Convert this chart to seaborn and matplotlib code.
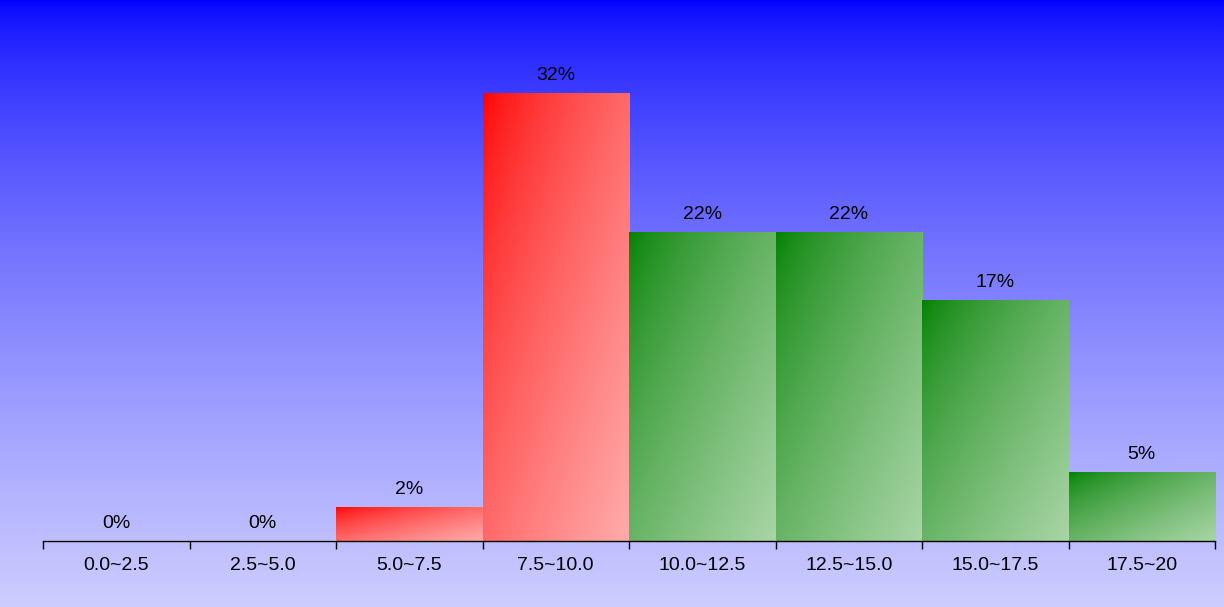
import numpy as np
import pandas as pd
import matplotlib
matplotlib.use("Agg")
import matplotlib.pyplot as plt
import seaborn as sns
from matplotlib.colors import ListedColormap

# ---- data ----
categories = ["0.0~2.5", "2.5~5.0", "5.0~7.5", "7.5~10.0",
              "10.0~12.5", "12.5~15.0", "15.0~17.5", "17.5~20"]
values = [0.0, 0.0, 2.4, 32.0, 22.1, 22.1, 17.2, 4.9]
labels = ["0%", "0%", "2%", "32%", "22%", "22%", "17%", "5%"]
groups = ["red", "red", "red", "red", "green", "green", "green", "green"]

sns.set_theme(style="white")
plt.rcParams["font.family"] = ["Liberation Sans", "DejaVu Sans"]

W, H = 1224, 607
fig = plt.figure(figsize=(W / 100, H / 100), dpi=100)

# background gradient
bg = fig.add_axes([0, 0, 1, 1], zorder=-10)
yy = np.linspace(0, 1, 600)
c = 205 * yy ** 0.65
bgimg = np.zeros((600, 2, 3))
bgimg[:, :, 0] = c[:, None] / 255
bgimg[:, :, 1] = c[:, None] / 255
bgimg[:, :, 2] = 1.0
bg.imshow(bgimg, aspect="auto", extent=[0, 1, 0, 1], origin="upper")
bg.set_axis_off()

left, right, bottom_px = 43, 1215, 541
ax = fig.add_axes([left / W, (H - bottom_px) / H, (right - left) / W, bottom_px / H])
ax.set_facecolor("none")

df = pd.DataFrame({"cat": categories, "val": values, "grp": groups})
sns.barplot(data=df, x="cat", y="val", hue="grp",
            palette={"red": "#ff0000", "green": "#008000"},
            width=1.0, saturation=1, legend=False, dodge=False, ax=ax)

ymax = bottom_px / 14.0
ax.set_xlim(-0.5, len(categories) - 0.5)
ax.set_ylim(0, ymax)


def grad_cmap(c0, c1, gamma=0.7, n=256):
    t = (np.linspace(0, 1, n) ** gamma)[:, None]
    c0, c1 = np.asarray(c0, float), np.asarray(c1, float)
    return ListedColormap(np.clip(c0 * (1 - t) + c1 * t, 0, 1))


grad = {
    "red": grad_cmap((1, 0, 0), (1, 0.67, 0.67)),
    "green": grad_cmap((0, 0.5, 0), (0.66, 0.835, 0.65)),
}

u = np.linspace(0, 1, 200)
v = np.linspace(0, 1, 200)
T = (u[None, :] + v[:, None]) / 2.0

for p in ax.patches:
    h = p.get_height()
    if h <= 0:
        continue
    x0 = p.get_x()
    w = p.get_width()
    idx = int(round(x0 + w / 2))
    cmap = grad[groups[idx]]
    p.set_facecolor("none")
    p.set_edgecolor("none")
    im = ax.imshow(T, cmap=cmap, vmin=0, vmax=1, origin="upper",
                   extent=[x0, x0 + w, 0, h], aspect="auto", zorder=1,
                   interpolation="bilinear")
    im.set_clip_path(p)

ax.set_xlim(-0.5, len(categories) - 0.5)
ax.set_ylim(0, ymax)
ax.set_aspect("auto")

for i, (val, lab) in enumerate(zip(values, labels)):
    ax.annotate(lab, (i, val), xytext=(0, 9.4), textcoords="offset points",
                ha="center", va="baseline", fontsize=14, color="black")

# axis styling
for s in ["top", "right", "left"]:
    ax.spines[s].set_visible(False)
ax.spines["bottom"].set_color("black")
ax.spines["bottom"].set_linewidth(1)
ax.set_yticks([])
ax.set_xticks(np.arange(-0.5, len(categories)), minor=False)
ax.set_xticklabels([""] * (len(categories) + 1))
ax.set_xticks(np.arange(len(categories)), minor=True)
ax.set_xticklabels(categories, minor=True, fontsize=14, color="black")
ax.tick_params(axis="x", which="major", length=6, width=1, color="black",
               direction="out", bottom=True)
ax.tick_params(axis="x", which="minor", length=0, pad=11.8)
ax.set_xlabel("")
ax.set_ylabel("")

fig.savefig("out.png", dpi=100)
